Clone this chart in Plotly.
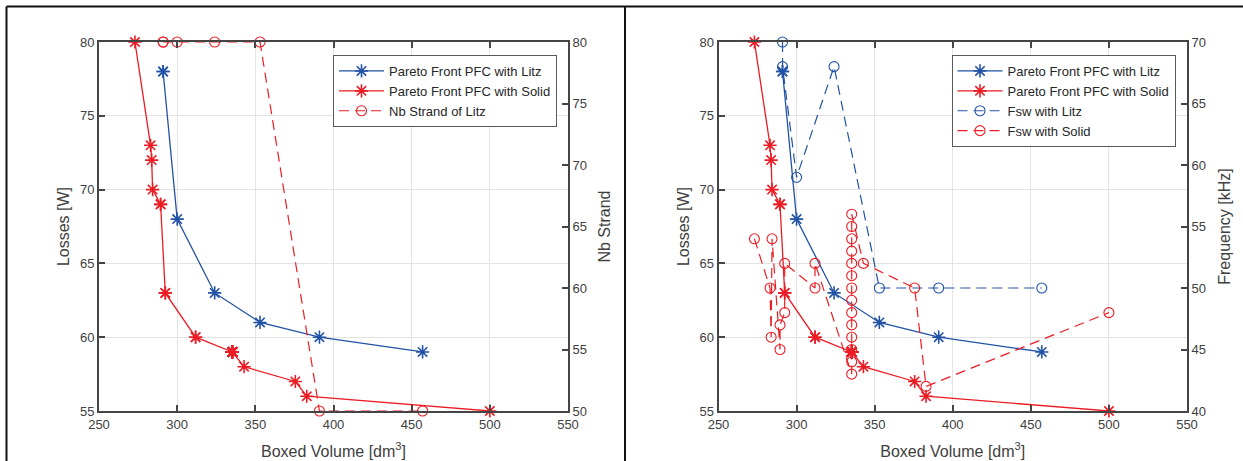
import plotly.graph_objects as go
from plotly.subplots import make_subplots

# ---------------- data ----------------
litz_volume = [291, 291, 300, 324, 353, 391, 457]
litz_losses = [78, 78, 68, 63, 61, 60, 59]
litz_strands = [80, 80, 80, 80, 80, 50, 50]
litz_fsw = [70, 68, 59, 68, 50, 50, 50]

solid_volume = [273, 283, 283.7, 284.3, 289.4, 289.4, 292.4, 292.4, 311.8, 311.8,
                335.3, 335.3, 335.3, 335.3, 335.3, 335.3, 335.3,
                335.3, 335.3, 335.3, 335.3, 335.3, 335.3, 335.3,
                342.8, 375.6, 382.9, 500]
solid_losses = [80, 73, 72, 70, 69, 69, 63, 63, 60, 60,
                59, 59, 59, 59, 59, 59, 59,
                59, 59, 59, 59, 59, 59, 59,
                58, 57, 56, 55]
solid_fsw = [54, 50, 46, 54, 45, 47, 48, 52, 50, 52,
             43, 44, 45, 46, 47, 48, 49,
             50, 51, 52, 53, 54, 55, 56,
             52, 50, 42, 48]

x_ticks = [250, 300, 350, 400, 450, 500, 550]

# ---------------- style ----------------
W, H = 1243, 461
BLUE = '#2152a5'
RED = '#ec1c24'
AX = '#454545'
TXT = '#404040'
GRID = '#e3e3e3'
FONT = 'Liberation Sans, Arial, sans-serif'
DASH = '10px,6px'

fig = make_subplots(rows=1, cols=2, specs=[[{"secondary_y": True}, {"secondary_y": True}]])

star = dict(symbol='asterisk-open', size=11, line=dict(width=1.6))
circ = dict(symbol='circle-open', size=10, line=dict(width=1.1))

# Left panel
fig.add_trace(go.Scatter(x=litz_volume, y=litz_losses, mode='lines+markers', name='Pareto Front PFC with Litz',
                         line=dict(color=BLUE, width=1.3), marker=dict(color=BLUE, **star),
                         cliponaxis=False, legend='legend'), row=1, col=1, secondary_y=False)
fig.add_trace(go.Scatter(x=solid_volume, y=solid_losses, mode='lines+markers', name='Pareto Front PFC with Solid',
                         line=dict(color=RED, width=1.3), marker=dict(color=RED, **star),
                         cliponaxis=False, legend='legend'), row=1, col=1, secondary_y=False)
fig.add_trace(go.Scatter(x=litz_volume, y=litz_strands, mode='lines+markers', name='Nb Strand of Litz',
                         line=dict(color=RED, width=1.2, dash=DASH), marker=dict(color=RED, **circ),
                         cliponaxis=False, legend='legend'), row=1, col=1, secondary_y=True)

# Right panel
fig.add_trace(go.Scatter(x=litz_volume, y=litz_losses, mode='lines+markers', name='Pareto Front PFC with Litz',
                         line=dict(color=BLUE, width=1.3), marker=dict(color=BLUE, **star),
                         cliponaxis=False, legend='legend2'), row=1, col=2, secondary_y=False)
fig.add_trace(go.Scatter(x=solid_volume, y=solid_losses, mode='lines+markers', name='Pareto Front PFC with Solid',
                         line=dict(color=RED, width=1.3), marker=dict(color=RED, **star),
                         cliponaxis=False, legend='legend2'), row=1, col=2, secondary_y=False)
fig.add_trace(go.Scatter(x=litz_volume, y=litz_fsw, mode='lines+markers', name='Fsw with Litz',
                         line=dict(color=BLUE, width=1.2, dash=DASH), marker=dict(color=BLUE, **circ),
                         cliponaxis=False, legend='legend2'), row=1, col=2, secondary_y=True)
fig.add_trace(go.Scatter(x=solid_volume, y=solid_fsw, mode='lines+markers', name='Fsw with Solid',
                         line=dict(color=RED, width=1.2, dash=DASH), marker=dict(color=RED, **circ),
                         cliponaxis=False, legend='legend2'), row=1, col=2, secondary_y=True)

ydom = [1 - 411 / H, 1 - 42 / H]
tickfont = dict(family=FONT, size=13, color=TXT)
titlefont = dict(family=FONT, size=16, color=TXT)

common_x = dict(range=[250, 550], tickvals=x_ticks, ticks='inside', ticklen=6, tickwidth=1.5, tickcolor=AX,
                showline=True, linecolor=AX, linewidth=2, mirror='ticks', showgrid=True, gridcolor=GRID,
                gridwidth=1, zeroline=False, tickfont=tickfont, automargin=False,
                title=dict(text='Boxed Volume [dm<sup>3</sup>]', font=titlefont, standoff=15))
common_y = dict(ticks='inside', ticklen=6, tickwidth=1.5, tickcolor=AX, showline=True, linecolor=AX,
                linewidth=2, showgrid=True, gridcolor=GRID, gridwidth=1, zeroline=False, tickfont=tickfont,
                automargin=False)
common_y2 = dict(ticks='inside', ticklen=6, tickwidth=1.5, tickcolor=AX, showline=True, linecolor=AX,
                 linewidth=2, showgrid=False, zeroline=False, tickfont=tickfont, automargin=False)

fig.update_layout(
    width=W, height=H, autosize=False,
    margin=dict(l=0, r=0, t=0, b=0, autoexpand=False),
    paper_bgcolor='white', plot_bgcolor='white',
    font=dict(family=FONT, color=TXT),
    xaxis=dict(domain=[99 / W, 568 / W], **common_x),
    xaxis2=dict(domain=[718.5 / W, 1187 / W], **common_x),
    yaxis=dict(domain=ydom, range=[55, 80], dtick=5,
               title=dict(text='Losses [W]', font=titlefont, standoff=6), **common_y),
    yaxis2=dict(range=[50, 80], dtick=5,
                title=dict(text='Nb Strand', font=titlefont, standoff=13), **common_y2),
    yaxis3=dict(domain=ydom, range=[55, 80], dtick=5,
                title=dict(text='Losses [W]', font=titlefont, standoff=6), **common_y),
    yaxis4=dict(range=[40, 70], dtick=5,
                title=dict(text='Frequency [kHz]', font=titlefont, standoff=14), **common_y2),
    legend=dict(x=333 / W, y=1 - 55 / H, xanchor='left', yanchor='top', bgcolor='white',
                bordercolor='#5a5a5a', borderwidth=1, font=dict(family=FONT, size=13, color='#262626'),
                itemwidth=45, tracegroupgap=0),
    legend2=dict(x=951.5 / W, y=1 - 55 / H, xanchor='left', yanchor='top', bgcolor='white',
                 bordercolor='#5a5a5a', borderwidth=1, font=dict(family=FONT, size=13, color='#262626'),
                 itemwidth=45, tracegroupgap=0),
    shapes=[
        dict(type='line', xref='paper', yref='paper', x0=6.5 / W, x1=1, y0=1 - 6.5 / H, y1=1 - 6.5 / H,
             line=dict(color='#111111', width=2)),
        dict(type='line', xref='paper', yref='paper', x0=6.5 / W, x1=6.5 / W, y0=0, y1=1 - 6.5 / H,
             line=dict(color='#111111', width=2)),
        dict(type='line', xref='paper', yref='paper', x0=625 / W, x1=625 / W, y0=0, y1=1 - 6.5 / H,
             line=dict(color='#111111', width=2)),
    ],
)

fig.write_html("out.html", config={'displayModeBar': False},
               post_script="document.body.style.margin='0px';document.body.style.overflow='hidden';")
